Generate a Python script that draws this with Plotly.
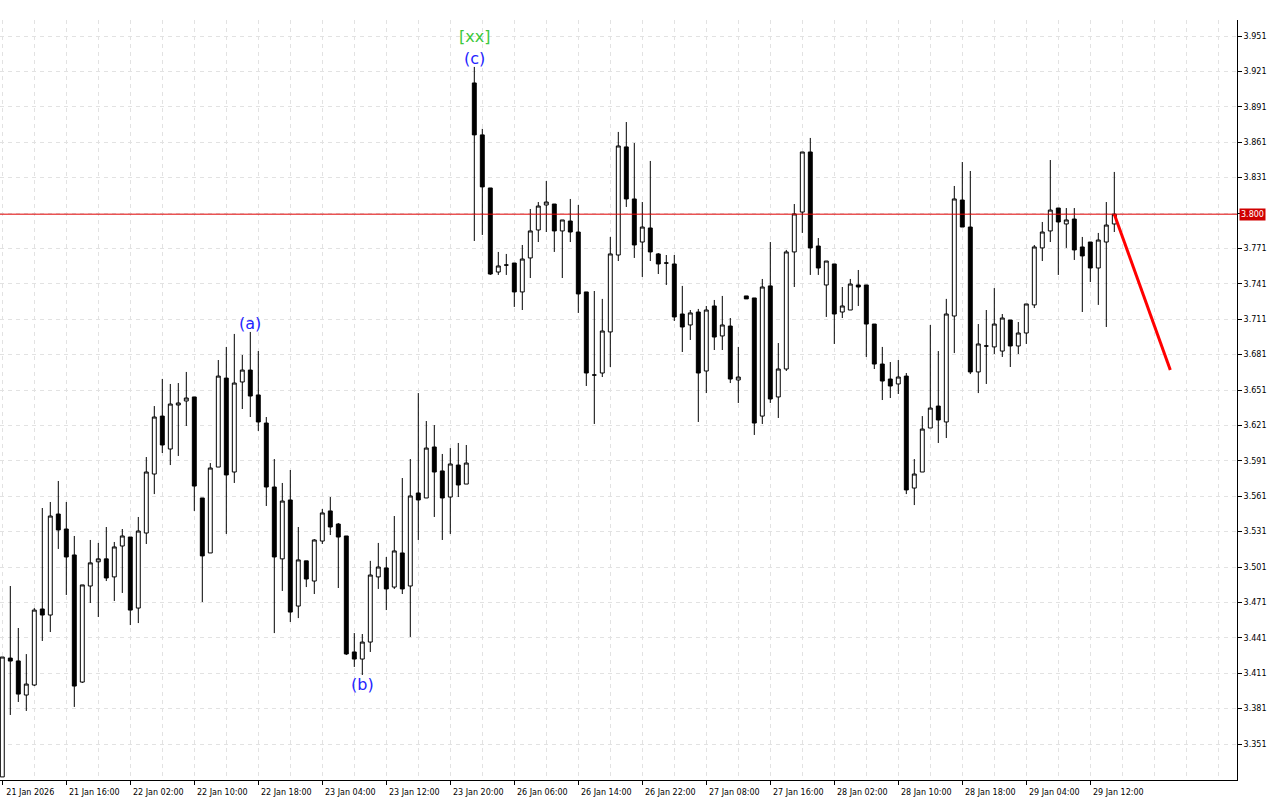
import plotly.graph_objects as go

# ---- data (hourly bars, index 0..139) ----
opens = [3.3231,3.4238,3.4214,3.3925,3.4010,3.4654,3.4603,3.5459,3.5332,3.5112,
         3.4035,3.4849,3.5054,3.5079,3.4926,3.5188,3.5264,3.4662,3.5298,3.5798,
         3.6289,3.6010,3.6383,3.6417,3.6451,3.5595,3.5129,3.5857,3.6611,3.5815,
         3.6578,3.6679,3.6468,3.6230,3.5688,3.5079,3.5578,3.4679,3.5062,3.4891,
         3.5230,3.5485,3.5374,3.5273,3.4290,3.4230,3.4374,3.4926,3.5002,3.4840,
         3.5129,3.4849,3.5637,3.5595,3.6027,3.5824,3.5603,3.5874,3.5713,3.9112,
         3.8672,3.8222,3.7510,3.7569,3.7586,3.7341,3.7629,3.7866,3.8078,3.8086,
         3.7858,3.7942,3.7849,3.7341,3.6637,3.6654,3.7002,3.7654,3.8570,3.8129,
         3.7764,3.7883,3.7663,3.7586,3.7578,3.7154,3.7061,3.7171,3.6671,3.7222,
         3.6968,3.7052,3.6595,3.7307,3.7290,3.6289,3.7392,3.6451,3.6688,3.7680,
         3.8018,3.8527,3.7730,3.7400,3.7578,3.7171,3.7188,3.7400,3.7400,3.7069,
         3.6730,3.6603,3.6561,3.6628,3.5679,3.5815,3.6188,3.6374,3.6239,3.7137,
         3.8120,3.7891,3.6663,3.6883,3.6875,3.6840,3.7103,3.6883,3.6993,3.7231,
         3.7714,3.7858,3.8052,3.7917,3.7959,3.7722,3.7764,3.7544,3.7764,3.7917]
highs = [3.4247,3.4849,3.4493,3.4272,3.4662,3.5510,3.5561,3.5739,3.5561,3.5273,
         3.4858,3.5239,3.5214,3.5349,3.5222,3.5332,3.5264,3.5434,3.5942,3.6374,
         3.6604,3.6561,3.6569,3.6663,3.6451,3.5595,3.5891,3.6764,3.6875,3.6985,
         3.6807,3.7002,3.6840,3.6281,3.5925,3.5722,3.5832,3.5349,3.5062,3.5247,
         3.5502,3.5603,3.5383,3.5273,3.4450,3.4442,3.5062,3.5214,3.5095,3.5442,
         3.5764,3.5925,3.6484,3.6247,3.6213,3.5968,3.6018,3.6061,3.6044,3.9248,
         3.8723,3.8222,3.7680,3.7663,3.7586,3.7739,3.8044,3.8103,3.8281,3.8086,
         3.7951,3.8129,3.8078,3.7341,3.7349,3.7282,3.7807,3.8697,3.8781,3.8603,
         3.8103,3.8451,3.7671,3.7654,3.7654,3.7392,3.7188,3.7197,3.7222,3.7273,
         3.7307,3.7120,3.6875,3.7307,3.7290,3.7451,3.7764,3.6908,3.7697,3.8086,
         3.8527,3.8646,3.7798,3.7603,3.7578,3.7383,3.7451,3.7527,3.7400,3.7069,
         3.6875,3.6747,3.6764,3.6654,3.5925,3.6289,3.7061,3.6840,3.7282,3.8239,
         3.8442,3.8366,3.7069,3.7188,3.7374,3.7154,3.7103,3.7086,3.7239,3.7739,
         3.7934,3.8459,3.8052,3.8052,3.8052,3.7807,3.7764,3.7841,3.8103,3.8358]
lows = [3.3231,3.3756,3.3866,3.3790,3.4001,3.4383,3.4459,3.5163,3.4773,3.3824,
        3.4027,3.4705,3.4586,3.4891,3.4722,3.4790,3.4518,3.4535,3.5205,3.5628,
        3.5976,3.5874,3.5951,3.6205,3.5485,3.4713,3.5129,3.5857,3.5290,3.5722,
        3.6349,3.6281,3.6163,3.5527,3.4450,3.4807,3.4544,3.4577,3.4840,3.4781,
        3.5205,3.5281,3.4832,3.4264,3.4163,3.4095,3.4290,3.4824,3.4645,3.4824,
        3.4781,3.4417,3.5239,3.5595,3.5434,3.5239,3.5290,3.5603,3.5713,3.7773,
        3.7824,3.7485,3.7485,3.7485,3.7214,3.7188,3.7459,3.7764,3.7849,3.7680,
        3.7459,3.7764,3.7163,3.6544,3.6222,3.6620,3.6705,3.7603,3.8061,3.7629,
        3.7468,3.7603,3.7493,3.7400,3.7095,3.6832,3.6934,3.6239,3.6484,3.6849,
        3.6849,3.6569,3.6400,3.7282,3.6129,3.6222,3.6400,3.6273,3.6671,3.7383,
        3.7841,3.7485,3.7485,3.7129,3.6900,3.7120,3.7188,3.7222,3.6790,3.6688,
        3.6425,3.6442,3.6476,3.5628,3.5535,3.5815,3.6188,3.6061,3.6103,3.6823,
        3.7891,3.6645,3.6484,3.6561,3.6815,3.6790,3.6705,3.6815,3.6900,3.7205,
        3.7603,3.7764,3.7485,3.7714,3.7612,3.7171,3.7425,3.7231,3.7044,3.7849]
closes = [3.4247,3.4213,3.3933,3.4018,3.4645,3.4603,3.5442,3.5324,3.5095,3.4001,
          3.4858,3.5045,3.5079,3.4917,3.5180,3.5273,3.4645,3.5315,3.5815,3.6281,
          3.6044,3.6391,3.6400,3.6442,3.5696,3.5104,3.5849,3.6628,3.5790,3.6569,
          3.6679,3.6459,3.6239,3.5688,3.5095,3.5569,3.4628,3.5070,3.4908,3.5239,
          3.5468,3.5349,3.5264,3.4273,3.4230,3.4374,3.4942,3.5010,3.4824,3.5146,
          3.4824,3.5612,3.5578,3.6018,3.5815,3.5595,3.5883,3.5705,3.5891,3.8672,
          3.8231,3.7493,3.7561,3.7569,3.7341,3.7620,3.7858,3.8069,3.8103,3.7858,
          3.7951,3.7849,3.7324,3.6654,3.6637,3.7010,3.7663,3.8578,3.8129,3.7739,
          3.7891,3.7680,3.7578,3.7586,3.7129,3.7044,3.7163,3.6654,3.7188,3.6959,
          3.7061,3.6603,3.6620,3.7282,3.6230,3.7383,3.6434,3.6688,3.7680,3.8002,
          3.8527,3.7714,3.7544,3.7603,3.7154,3.7222,3.7408,3.7383,3.7069,3.6730,
          3.6586,3.6544,3.6620,3.5663,3.5798,3.6179,3.6357,3.6256,3.7154,3.8129,
          3.7891,3.6663,3.6900,3.6883,3.7069,3.7120,3.6883,3.6993,3.7239,3.7722,
          3.7849,3.8035,3.7934,3.7951,3.7697,3.7646,3.7544,3.7781,3.7908,3.8000]
bar_index = list(range(len(opens)))

time_labels = ["21 Jan 2026", "21 Jan 16:00", "22 Jan 02:00", "22 Jan 10:00",
               "22 Jan 18:00", "23 Jan 04:00", "23 Jan 12:00", "23 Jan 20:00",
               "26 Jan 06:00", "26 Jan 14:00", "26 Jan 22:00", "27 Jan 08:00",
               "27 Jan 16:00", "28 Jan 02:00", "28 Jan 10:00", "28 Jan 18:00",
               "29 Jan 04:00", "29 Jan 12:00"]
time_label_bars = [0, 8, 16, 24, 32, 40, 48, 56, 64, 72, 80, 88, 96, 104, 112, 120, 128, 136]

price_ticks = [3.351, 3.381, 3.411, 3.441, 3.471, 3.501, 3.531, 3.561, 3.591, 3.621,
               3.651, 3.681, 3.711, 3.741, 3.771, 3.801, 3.831, 3.861, 3.891, 3.921, 3.951]

current_price = 3.800
forecast_x = [139, 146]
forecast_y = [3.800, 3.668]

wave_labels = [("(a)", 31, "top"), ("(b)", 45, "bottom"), ("(c)", 59, "top")]

# ---- figure ----
fig = go.Figure()
fig.add_trace(go.Candlestick(
    x=bar_index, open=opens, high=highs, low=lows, close=closes,
    increasing=dict(line=dict(color="black", width=1), fillcolor="white"),
    decreasing=dict(line=dict(color="black", width=1), fillcolor="black"),
    whiskerwidth=0, showlegend=False, hoverinfo="skip"))

fig.add_trace(go.Scatter(x=forecast_x, y=forecast_y, mode="lines",
                         line=dict(color="#ff0000", width=3),
                         showlegend=False, hoverinfo="skip"))

fig.add_hline(y=current_price, line=dict(color="#e00000", width=1))

ticktext_y = [("" if abs(v - 3.801) < 1e-9 else f"{v:.3f}") for v in price_ticks]

fig.update_layout(
    width=1280, height=800,
    margin=dict(l=0, r=43, t=20, b=20),
    paper_bgcolor="white", plot_bgcolor="white",
    boxgap=0.3,
    font=dict(family="DejaVu Sans", size=8, color="black"),
    xaxis=dict(
        range=[-0.2875, 154.3375], rangeslider=dict(visible=False),
        tickmode="array", tickvals=time_label_bars, ticktext=time_labels,
        ticks="outside", ticklen=4, tickcolor="black", ticklabelshift=28,
        ticklabelstandoff=0,
        tickfont=dict(family="DejaVu Sans", size=8, color="black"),
        showgrid=True, gridcolor="#e2e2e2", griddash="4px,4px", gridwidth=1,
        minor=dict(tick0=0, dtick=4, showgrid=True, gridcolor="#e2e2e2",
                   griddash="4px,4px", ticks=""),
        showline=True, linecolor="black", linewidth=1, zeroline=False,
        fixedrange=True),
    yaxis=dict(
        side="right", range=[3.32049, 3.96456],
        tickmode="array", tickvals=price_ticks, ticktext=ticktext_y,
        ticks="outside", ticklen=4, tickcolor="black",
        tickfont=dict(family="DejaVu Sans", size=8, color="black"),
        showgrid=True, gridcolor="#e2e2e2", griddash="4px,4px", gridwidth=1,
        showline=True, linecolor="black", linewidth=1, zeroline=False,
        fixedrange=True),
)

for text, i, pos in wave_labels:
    if pos == "top":
        fig.add_annotation(x=i, y=highs[i], text=text, showarrow=False,
                           yanchor="bottom", xanchor="center", yshift=-3,
                           font=dict(family="DejaVu Sans", size=16, color="#2424ff"))
    else:
        fig.add_annotation(x=i, y=lows[i], text=text, showarrow=False,
                           yanchor="top", xanchor="center", yshift=2,
                           font=dict(family="DejaVu Sans", size=16, color="#2424ff"))

fig.add_annotation(x=59, y=highs[59], text="[xx]", showarrow=False,
                   yanchor="bottom", xanchor="center", yshift=19,
                   font=dict(family="DejaVu Sans", size=16, color="#3cc83c"))

fig.add_annotation(xref="paper", x=1, xanchor="left", xshift=2,
                   y=current_price, yref="y", yanchor="middle",
                   text="3.800", showarrow=False, bgcolor="#d00000",
                   borderpad=1, font=dict(family="DejaVu Sans", size=8, color="white"))

fig.write_html("out.html", config={"displayModeBar": False},
               post_script="document.body.style.margin='0';document.body.style.padding='0';")
